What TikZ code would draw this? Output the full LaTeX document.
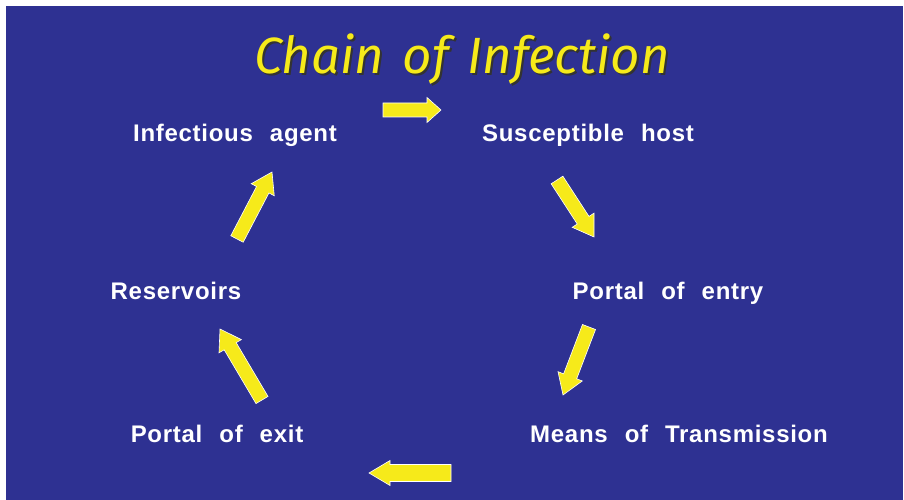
\documentclass[tikz,border=0pt]{standalone}
\usepackage{fontspec}
\usepackage{xcolor}
\setmainfont{Liberation Sans}
\newfontfamily\labelfont{Liberation Sans}[LetterSpace=3, WordSpace=2.3]
\newfontfamily\titlefont{Fira Sans}[WordSpace=1.4]
\usetikzlibrary{calc}
\definecolor{slideblue}{RGB}{46,49,146}
\definecolor{chainyellow}{RGB}{246,234,26}
% block arrow from tail #1 to tip #2: shaft half width #3, head half width #4, head length #5
\newcommand{\chainarrow}[5]{%
  \coordinate (hb) at ($(#2)!#5!(#1)$);
  \draw[blockarrow] ($(#1)!#3!90:(#2)$) -- ($(hb)!#3!90:(#2)$) -- ($(hb)!#4!90:(#2)$) -- (#2)
    -- ($(hb)!#4!-90:(#2)$) -- ($(hb)!#3!-90:(#2)$) -- ($(#1)!#3!-90:(#2)$) -- cycle;}
\begin{document}
\begin{tikzpicture}[x=1pt, y=-1pt,
    stage/.style={text=white, anchor=base, inner sep=0pt, font=\labelfont\bfseries\fontsize{24}{24}\selectfont},
    heading/.style={anchor=base, inner sep=0pt, font=\titlefont\itshape\fontsize{51}{51}\selectfont},
    blockarrow/.style={fill=chainyellow, draw=white, line width=0.6pt, line join=miter}
]
\fill[white] (0,0) rectangle (904,500);
\useasboundingbox (0,0) rectangle (904,500);
\fill[slideblue] (6,6) rectangle (903,500);
% Title with shadow
\node[heading, text=black!80] (shadow) at (464,76) {Chain of Infection};
\node[heading, text=chainyellow] (title) at (462,74) {Chain of Infection};
% Stages of the chain
\node[stage] (agent) at (235,142) {Infectious agent};
\node[stage] (host) at (588,142) {Susceptible host};
\node[stage] (entry) at (668,299) {Portal of entry};
\node[stage] (means) at (679,442) {Means of Transmission};
\node[stage] (exit) at (217,442) {Portal of exit};
\node[stage] (reservoir) at (176,299) {Reservoirs};
% Arrow ends
\coordinate (a1) at (383,110); \coordinate (b1) at (441,110);
\coordinate (a2) at (557,180); \coordinate (b2) at (594,237);
\coordinate (a3) at (589,327); \coordinate (b3) at (563,395);
\coordinate (a4) at (451,473); \coordinate (b4) at (369,473);
\coordinate (a5) at (262,400); \coordinate (b5) at (220,329);
\coordinate (a6) at (237,239); \coordinate (b6) at (272,172);
% Arrows
\chainarrow{a1}{b1}{7pt}{12.5pt}{14pt}
\chainarrow{a2}{b2}{7pt}{13pt}{20pt}
\chainarrow{a3}{b3}{7pt}{13pt}{20pt}
\chainarrow{a4}{b4}{8.5pt}{12.5pt}{21pt}
\chainarrow{a5}{b5}{7pt}{13pt}{20pt}
\chainarrow{a6}{b6}{7pt}{13pt}{20pt}
\end{tikzpicture}
\end{document}
